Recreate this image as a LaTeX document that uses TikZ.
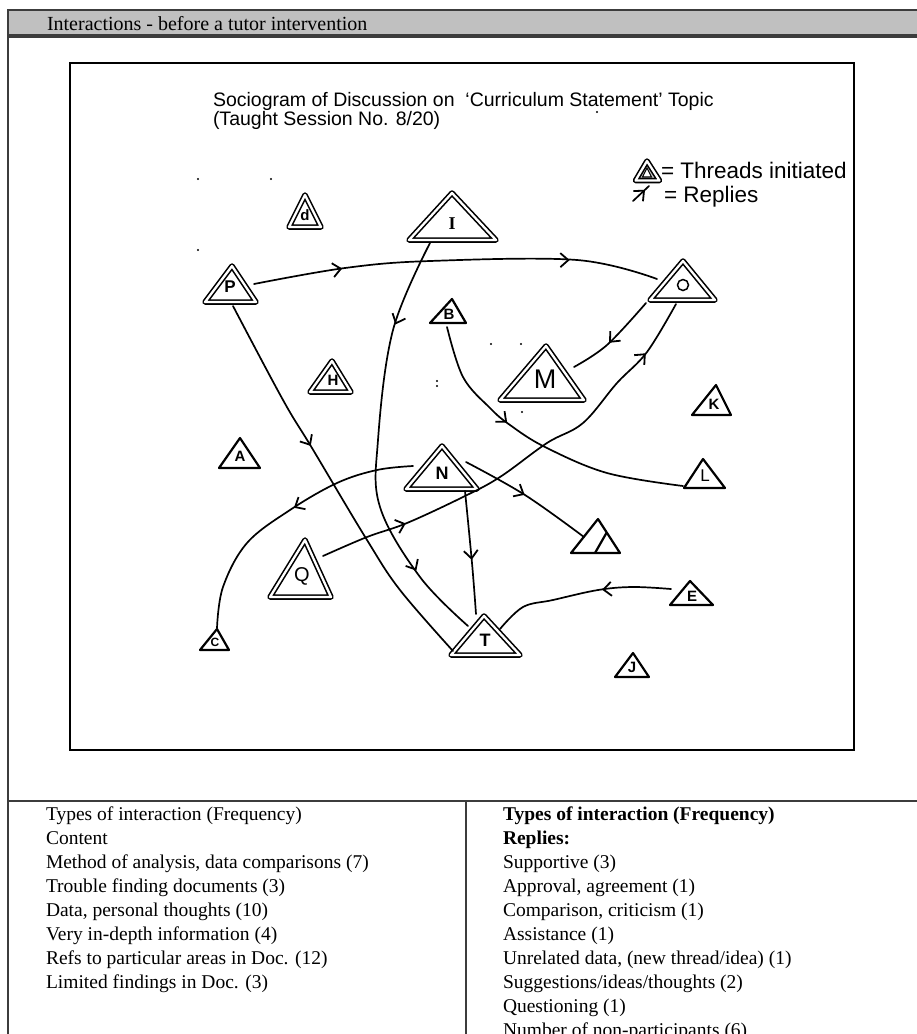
\documentclass[tikz,border=0pt]{standalone}
\usepackage{fontspec}
\setmainfont{Liberation Serif}
\setsansfont{Liberation Sans}
\usetikzlibrary{arrows.meta,decorations.markings}
\definecolor{barfill}{HTML}{C0C0C0}
\definecolor{rulegray}{HTML}{3C3C3C}
% a reply: a smooth hand-drawn curve, with barbs placed along its polygonal guide
\newcommand\replyline[2]{%
  \draw[reply] plot[smooth, tension=0.6] coordinates {#2};
  \path[#1] plot coordinates {#2};}
\begin{document}
\begin{tikzpicture}[x=1pt,y=-1pt,
  every node/.style={inner sep=0pt, outer sep=0pt},
  frame/.style={draw=rulegray, line width=1.1pt},
  hdr/.style={font=\fontsize{20}{24}\selectfont, anchor=base west},
  cell/.style={font=\fontsize{19.5}{24}\selectfont, anchor=base west},
  ttl/.style={font=\sffamily\fontsize{19.5}{19}\selectfont, anchor=base west},
  leg/.style={font=\sffamily\fontsize{22.5}{24}\selectfont, anchor=base west},
  tri/.style={draw, line width=2.2pt, line join=round},
  dtri/.style={draw, line width=1.6pt, double, double distance=2.3pt, line join=round},
  lbl/.style={font=\sffamily\bfseries\fontsize{15}{15}\selectfont},
  reply/.style={draw, line width=1.7pt, line cap=round},
  midbarb/.style={postaction={decorate, decoration={markings,
      mark=at position #1 with {\arrow[line width=1.8pt]{Straight Barb[length=8pt,width=14pt]}}}}},
  speck/.style={fill, circle, inner sep=0pt, minimum size=2.2pt}
]
\useasboundingbox (0,0) rectangle (917,1034);
\clip (0,0) rectangle (917,1034);
\fill[white] (0,0) rectangle (917,1034);

% ---------- header bar and table frame ----------
\draw[fill=barfill, draw=rulegray, line width=1.2pt] (8,10) rectangle (930,35);
\node[hdr] (head) at (47,30.5) {Interactions - before a tutor intervention};
\draw[frame] (930,37) -- (8,37) -- (8,1040);
\draw[frame] (8,801) -- (930,801);
\draw[frame] (466,801) -- (466,1040);

% ---------- sociogram panel ----------
\draw[line width=1.5pt] (70,63) rectangle (854,750);
\node[ttl] (title1) at (213,106.5) {Sociogram of Discussion on\ \ ‘Curriculum Statement’ Topic};
\node[ttl] (title2) at (213,125) {(Taught Session No. 8/20)};

% legend
\draw[dtri, fill=gray!45] (647,161) -- (635.5,180.5) -- (659.5,180.5) -- cycle;
\draw[line width=1.1pt, fill=white] (647,168) -- (642.5,177) -- (651.5,177) -- cycle;
\node[leg] (legthr) at (661,178) {= Threads initiated};
\coordinate (legA) at (633,201);
\coordinate (legB) at (649,186);
\draw[reply, midbarb=0.75] (legA) -- (legB);
\node[leg] (legrep) at (664,202) {= Replies};

% scattered specks
\foreach \px/\py in {198/179, 271/179, 198/250, 597/112, 437/381, 437/386, 491/344, 521/344, 522/412}
  \node[speck] at (\px,\py) {};

% ---------- participants (triangles) ----------
\draw[dtri] (305,195) -- (289,227) -- (321,227) -- cycle;
\node[lbl] (d) at (305,215) {d};

\draw[dtri] (452,193) -- (409,240) -- (496,240) -- cycle;
\node[lbl, font=\rmfamily\bfseries\fontsize{18}{18}\selectfont] (I) at (452,224) {I};

\draw[dtri] (232,266) -- (205,302) -- (256,302) -- cycle;
\node[lbl, font=\sffamily\bfseries\fontsize{17}{17}\selectfont] (P) at (230,287) {P};

\draw[tri] (452,299) -- (430,323) -- (466,323) -- cycle;
\node[lbl] (B) at (449,314) {B};

\draw[dtri] (332,361) -- (310,392) -- (351,392) -- cycle;
\node[lbl] (H) at (333,380) {H};

\draw[dtri] (683,261) -- (650,300) -- (715,300) -- cycle;
\node[draw, circle, line width=1.5pt, minimum size=11pt] (O) at (683,285) {};

\draw[dtri] (546,346) -- (500,400) -- (584,400) -- cycle;
\node[lbl, font=\sffamily\fontsize{27}{27}\selectfont] (M) at (545,379) {M};

\draw[tri] (716,385) -- (692,415) -- (731,415) -- cycle;
\node[lbl] (K) at (714,404) {K};

\draw[tri] (703,459) -- (684,488) -- (725,488) -- cycle;
\node[lbl, font=\sffamily\fontsize{17}{17}\selectfont] (L) at (705,476) {L};

\draw[dtri] (442,446) -- (406,489) -- (477,489) -- cycle;
\node[lbl, font=\sffamily\bfseries\fontsize{18}{18}\selectfont] (N) at (442,473) {N};

\draw[tri] (598,519) -- (571,553) -- (620,553) -- cycle;
\draw[tri] (607,532) -- (595,553);
\coordinate (AA) at (598,540);

\draw[tri] (240,438) -- (219,468) -- (260,468) -- cycle;
\node[lbl] (A) at (240,456) {A};

\draw[dtri] (305,540) -- (270,597) -- (331,597) -- cycle;
\node[lbl, font=\sffamily\fontsize{20}{20}\selectfont] (Q) at (302,576) {Q};

\draw[tri] (217,629) -- (200,650) -- (229,650) -- cycle;
\node[lbl, font=\sffamily\bfseries\fontsize{12}{12}\selectfont] (C) at (215,642) {C};

\draw[dtri] (484,616) -- (451,655) -- (520,655) -- cycle;
\node[lbl, font=\sffamily\bfseries\fontsize{18}{18}\selectfont] (T) at (485,640) {T};

\draw[tri] (690,581) -- (670,605) -- (713,605) -- cycle;
\node[lbl] (E) at (692,596) {E};

\draw[tri] (633,653) -- (615,677) -- (649,677) -- cycle;
\node[lbl] (J) at (632,667) {J};

% ---------- reply connectors ----------
\coordinate (P-o) at (254,284);  \coordinate (O-w) at (657,279);
\coordinate (I-s) at (430,243);  \coordinate (T-n) at (468,626);
\coordinate (P-s) at (233,306);  \coordinate (T-w) at (453,651);
\coordinate (O-sw) at (646,303); \coordinate (M-e) at (574,367);
\coordinate (Q-e) at (323,556);  \coordinate (O-s) at (676,304);
\coordinate (N-w) at (413,466);  \coordinate (C-n) at (217,628);
\coordinate (N-s) at (465,491);  \coordinate (T-a) at (476,614);
\coordinate (E-w) at (671,589);  \coordinate (T-e) at (500,629);
\coordinate (B-s) at (447,327);  \coordinate (L-w) at (683,486);
\coordinate (N-e) at (466,462);  \coordinate (AA-w) at (584,537);

\replyline{midbarb=0.22, midbarb=0.78}{(P-o) (345,268) (430,261) (577,260) (O-w)}
\replyline{midbarb=0.21, midbarb=0.82}{(I-s) (393,330) (378,440) (380,507) (420,577) (T-n)}
\replyline{midbarb=0.39}{(P-s) (283,400) (312,448) (367,540) (400,590) (T-w)}
\replyline{midbarb=0.56}{(O-sw) (607,345) (M-e)}
\replyline{midbarb=0.20, midbarb=0.87}{(Q-e) (367,537) (407,523) (463,497) (500,477) (547,443) (583,423) (617,383) (647,352) (O-s)}
\replyline{midbarb=0.46}{(N-w) (377,470) (337,483) (290,510) (247,543) (223,587) (C-n)}
\replyline{midbarb=0.56}{(N-s) (472,563) (T-a)}
\replyline{midbarb=0.38}{(E-w) (633,587) (598,590) (553,600) (523,607) (T-e)}
\replyline{midbarb=0.38}{(B-s) (463,377) (490,408) (510,425) (545,447) (607,473) (L-w)}
\replyline{midbarb=0.48}{(N-e) (525,495) (AA-w)}

% ---------- frequency table ----------
\foreach \txt [count=\i, evaluate=\i as \yy using 796+24*\i] in
  {{Types of interaction (Frequency)},{Content},
   {Method of analysis, data comparisons (7)},{Trouble finding documents (3)},
   {Data, personal thoughts (10)},{Very in-depth information (4)},
   {Refs to particular areas in Doc. (12)},{Limited findings in Doc. (3)}}
  \node[cell] (left\i) at (46,\yy) {\txt};

\foreach \txt [count=\i, evaluate=\i as \yy using 796+24*\i] in
  {{\bfseries Types of interaction (Frequency)},{\bfseries Replies:},
   {Supportive (3)},{Approval, agreement (1)},{Comparison, criticism (1)},
   {Assistance (1)},{Unrelated data, (new thread/idea) (1)},
   {Suggestions/ideas/thoughts (2)},{Questioning (1)},
   {Number of non-participants (6)}}
  \node[cell] (right\i) at (503,\yy) {\txt};
\end{tikzpicture}
\end{document}
